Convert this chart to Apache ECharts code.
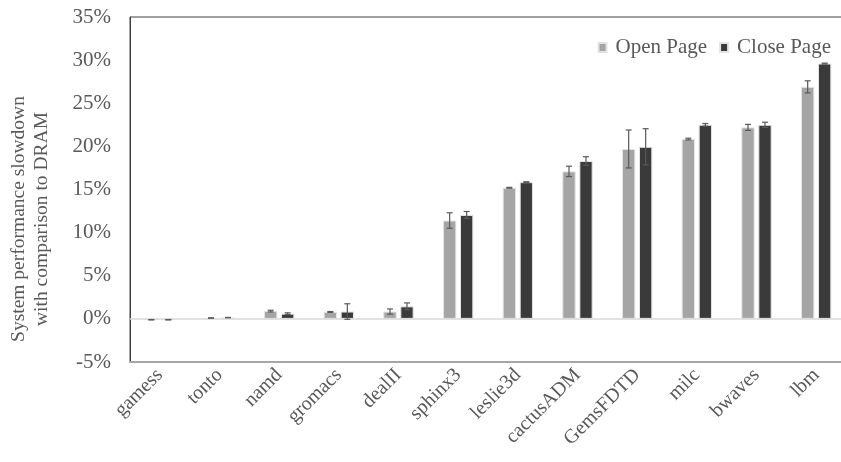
<!DOCTYPE html>
<html>
<head>
<meta charset="utf-8">
<script src="https://cdn.jsdelivr.net/npm/echarts@6/dist/echarts.min.js"></script>
<style>
  html, body { margin: 0; padding: 0; background: #ffffff; overflow: hidden; }
  /* the plot area runs a few pixels past the right edge of the window */
  #chart { width: 846px; height: 462px; }
</style>
</head>
<body>
<div id="chart"></div>
<script>
// Benchmarks (SPEC CPU2006), sorted by slowdown
const categories = ['gamess', 'tonto', 'namd', 'gromacs', 'dealII', 'sphinx3',
  'leslie3d', 'cactusADM', 'GemsFDTD', 'milc', 'bwaves', 'lbm'];

// Slowdown vs. DRAM, in percent
const openPage  = [-0.1, 0.1, 0.9, 0.8, 0.85, 11.4, 15.2, 17.1, 19.7, 20.85, 22.2, 26.9];
const closePage = [-0.1, 0.15, 0.6, 0.85, 1.45, 12.05, 15.85, 18.3, 19.95, 22.5, 22.5, 29.6];

// Error bar half-widths, in percent
const openErr  = [0.02, 0.02, 0.1, 0.05, 0.3, 0.9, 0.05, 0.6, 2.2, 0.1, 0.35, 0.7];
const closeErr = [0.02, 0.02, 0.1, 0.9, 0.4, 0.4, 0.05, 0.5, 2.1, 0.15, 0.3, 0.05];

const seriesNames = ['Open Page', 'Close Page'];
const yTicks = { min: -5, max: 35, interval: 5 };

const FONT = '"Liberation Serif", "Times New Roman", serif';
const TEXT = '#595959';
const BAR_W = 13.3;
const BAR_GAP = 3.7;

function errData(vals, errs) {
  return vals.map((v, i) => [i, v - errs[i], v + errs[i]]);
}

function errorRenderer(offset) {
  return function (params, api) {
    const i = api.value(0);
    const lo = api.coord([i, api.value(1)]);
    const hi = api.coord([i, api.value(2)]);
    const x = lo[0] + offset;
    const cap = 3;
    const style = { stroke: '#595959', lineWidth: 1.2 };
    return {
      type: 'group',
      children: [
        { type: 'line', shape: { x1: x, y1: lo[1], x2: x, y2: hi[1] }, style },
        { type: 'line', shape: { x1: x - cap, y1: lo[1], x2: x + cap, y2: lo[1] }, style },
        { type: 'line', shape: { x1: x - cap, y1: hi[1], x2: x + cap, y2: hi[1] }, style }
      ]
    };
  };
}

const half = (BAR_W + BAR_GAP) / 2;
const chart = echarts.init(document.getElementById('chart'));

chart.setOption({
  animation: false,
  backgroundColor: '#ffffff',
  textStyle: { fontFamily: FONT, color: TEXT },
  grid: {
    left: 130, right: 0, top: 17, bottom: 100,
    show: true, borderColor: '#404040', borderWidth: 1
  },
  legend: {
    data: seriesNames,
    right: 10, top: 32,
    itemWidth: 8, itemHeight: 9, itemGap: 12,
    icon: 'rect',
    textStyle: { fontFamily: FONT, fontSize: 21, color: TEXT, padding: [0, 0, 0, 4] }
  },
  graphic: [{
    type: 'text',
    x: 30, y: 219,
    rotation: Math.PI / 2,
    style: {
      text: 'System performance slowdown\nwith comparison to DRAM',
      fontFamily: FONT, fontSize: 19.5, fill: TEXT,
      align: 'center', verticalAlign: 'middle', lineHeight: 23
    }
  }],
  xAxis: {
    type: 'category',
    data: categories,
    axisLine: { onZero: false, lineStyle: { color: '#a6a6a6', width: 2 } },
    axisTick: { show: false },
    axisLabel: { rotate: 45, margin: 10, fontFamily: FONT, fontSize: 20, color: TEXT, interval: 0 }
  },
  yAxis: {
    type: 'value',
    min: yTicks.min, max: yTicks.max, interval: yTicks.interval,
    axisLine: { show: true, lineStyle: { color: '#404040', width: 1 } },
    axisTick: { show: false },
    splitLine: { show: false },
    axisLabel: { formatter: '{value}%', margin: 19, fontFamily: FONT, fontSize: 21, color: TEXT }
  },
  series: [
    {
      name: seriesNames[0], type: 'bar', data: openPage,
      barWidth: BAR_W, barGap: (BAR_GAP / BAR_W * 100).toFixed(1) + '%',
      itemStyle: { color: '#a5a5a5', borderColor: '#e3e3e3', borderWidth: 1 },
      markLine: {
        silent: true, symbol: 'none', label: { show: false },
        lineStyle: { color: '#d9d9d9', width: 1.5, type: 'solid' },
        data: [{ yAxis: 0 }]
      },
      z: 2
    },
    {
      name: seriesNames[1], type: 'bar', data: closePage,
      barWidth: BAR_W,
      itemStyle: { color: '#3a3a3a', borderColor: '#e3e3e3', borderWidth: 1 },
      z: 2
    },
    {
      type: 'custom', name: 'openErr', data: errData(openPage, openErr),
      renderItem: errorRenderer(-half), z: 5, silent: true
    },
    {
      type: 'custom', name: 'closeErr', data: errData(closePage, closeErr),
      renderItem: errorRenderer(half), z: 5, silent: true
    }
  ]
});
</script>
</body>
</html>
